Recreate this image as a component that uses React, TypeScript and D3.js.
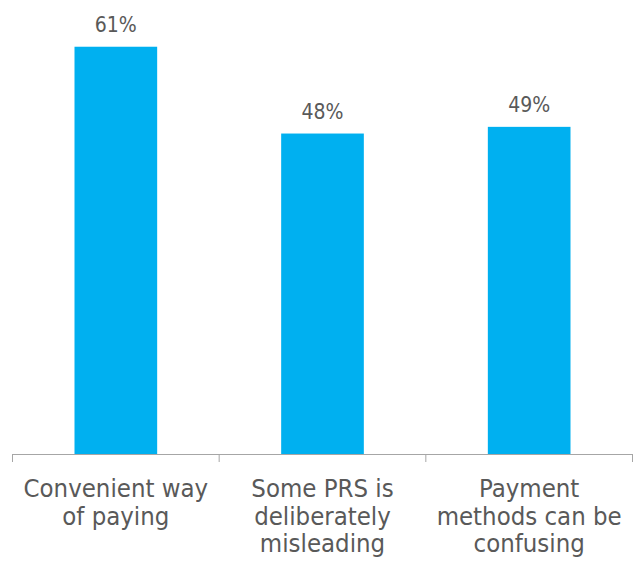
import React from 'react';
import * as d3 from 'd3';

const categories = ['Convenient way of paying', 'Some PRS is deliberately misleading', 'Payment methods can be confusing'];
const labelLines = [['Convenient way', 'of paying'], ['Some PRS is', 'deliberately', 'misleading'], ['Payment', 'methods can be', 'confusing']];
const values = [61, 48, 49];

const width = 636;
const height = 565;
const baseline = 454;
const font = "'DejaVu Sans Condensed', 'DejaVu Sans', sans-serif";

export default function App() {
  const x = d3.scaleBand<string>()
    .domain(categories)
    .range([12.5, 632.5])
    .paddingInner(0.6)
    .paddingOuter(0.3);

  const y = d3.scaleLinear().domain([0, 68]).range([baseline, 0]);

  const step = x.step();
  const tickXs = d3.range(categories.length + 1).map(i => 12.5 + i * step);

  return (
    <div style={{ position: 'fixed', left: 0, top: 0, background: '#fff' }}>
      <svg width={width} height={height} style={{ display: 'block' }}>
        <rect width={width} height={height} fill="#ffffff" />
        {categories.map((c, i) => (
          <g key={c}>
            <rect
              x={x(c)}
              y={y(values[i])}
              width={x.bandwidth()}
              height={baseline - y(values[i])}
              fill="#00b0f0"
            />
            <text
              x={(x(c) || 0) + x.bandwidth() / 2}
              y={y(values[i]) - 15}
              textAnchor="middle"
              fontFamily={font}
              fontSize={21}
              fill="#595959"
            >
              {values[i]}%
            </text>
            {labelLines[i].map((line, j) => (
              <text
                key={j}
                x={(x(c) || 0) + x.bandwidth() / 2}
                y={baseline + 43 + j * 27.5}
                textAnchor="middle"
                fontFamily={font}
                fontSize={25.5}
                fill="#595959"
              >
                {line}
              </text>
            ))}
          </g>
        ))}
        {/* axis */}
        <line x1={12.5} x2={632.5} y1={baseline + 0.5} y2={baseline + 0.5} stroke="#a6a6a6" strokeWidth={1} />
        {tickXs.map((tx, i) => (
          <line key={i} x1={tx} x2={tx} y1={baseline} y2={baseline + 8} stroke="#a6a6a6" strokeWidth={1} />
        ))}
      </svg>
    </div>
  );
}
